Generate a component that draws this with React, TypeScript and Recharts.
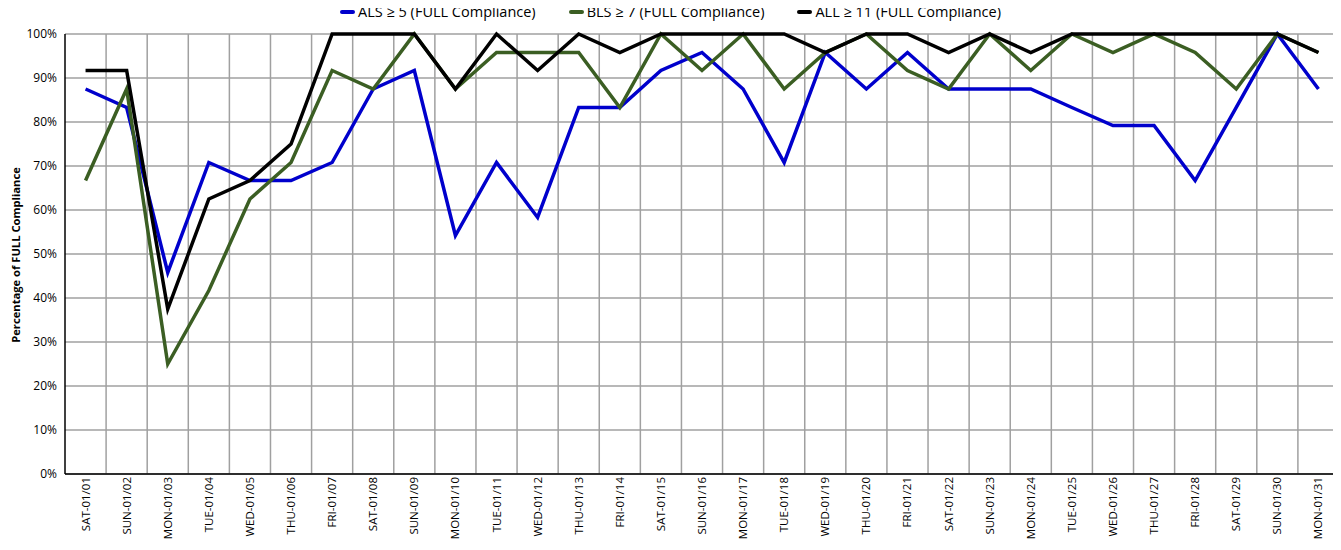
import { LineChart, Line, XAxis, YAxis, CartesianGrid } from 'recharts';

const days = [
  'SAT-01/01', 'SUN-01/02', 'MON-01/03', 'TUE-01/04', 'WED-01/05', 'THU-01/06', 'FRI-01/07',
  'SAT-01/08', 'SUN-01/09', 'MON-01/10', 'TUE-01/11', 'WED-01/12', 'THU-01/13', 'FRI-01/14',
  'SAT-01/15', 'SUN-01/16', 'MON-01/17', 'TUE-01/18', 'WED-01/19', 'THU-01/20', 'FRI-01/21',
  'SAT-01/22', 'SUN-01/23', 'MON-01/24', 'TUE-01/25', 'WED-01/26', 'THU-01/27', 'FRI-01/28',
  'SAT-01/29', 'SUN-01/30', 'MON-01/31',
];

const als = [
  87.5, 83.3, 45.8, 70.8, 66.7, 66.7, 70.8, 87.5, 91.7, 54.2, 70.8, 58.3, 83.3, 83.3, 91.7, 95.8,
  87.5, 70.8, 95.8, 87.5, 95.8, 87.5, 87.5, 87.5, 83.3, 79.2, 79.2, 66.7, 83.3, 100, 87.5,
];

const bls = [
  66.7, 87.5, 25, 41.7, 62.5, 70.8, 91.7, 87.5, 100, 87.5, 95.8, 95.8, 95.8, 83.3, 100, 91.7,
  100, 87.5, 95.8, 100, 91.7, 87.5, 100, 91.7, 100, 95.8, 100, 95.8, 87.5, 100, 95.8,
];

const all = [
  91.7, 91.7, 37.5, 62.5, 66.7, 75, 100, 100, 100, 87.5, 100, 91.7, 100, 95.8, 100, 100,
  100, 100, 95.8, 100, 100, 95.8, 100, 95.8, 100, 100, 100, 100, 100, 100, 95.8,
];

const yTicks = [0, 10, 20, 30, 40, 50, 60, 70, 80, 90, 100];

const series = [
  { key: 'als', name: 'ALS ≥ 5 (FULL Compliance)', color: '#0000CC' },
  { key: 'bls', name: 'BLS ≥ 7 (FULL Compliance)', color: '#3B5E23' },
  { key: 'all', name: 'ALL ≥ 11 (FULL Compliance)', color: '#000000' },
];

const data = days.map((day, i) => ({ day, als: als[i], bls: bls[i], all: all[i] }));

const font = '"Open Sans", sans-serif';

function DayTick({ x, y, payload }: any) {
  return (
    <text
      x={x}
      y={y}
      transform={`rotate(-90, ${x}, ${y})`}
      dx={5}
      dy={4}
      textAnchor="end"
      fontSize={11.5}
      fill="#000"
      fontFamily={font}
    >
      {payload.value}
    </text>
  );
}

export default function App() {
  return (
    <div style={{ position: 'relative', margin: -8, width: 1341, height: 550, background: '#fff' }}>
      <LineChart width={1341} height={550} data={data} margin={{ top: 34, right: 2, bottom: 0, left: 10 }}>
        <CartesianGrid
          stroke="#a0a0a0"
          strokeWidth={1.5}
          verticalCoordinatesGenerator={({ offset }: any) =>
            days.map((_, i) => offset.left + ((i + 1) * offset.width) / days.length)
          }
        />
        <XAxis
          dataKey="day"
          scale="band"
          height={76}
          interval={0}
          tick={<DayTick />}
          tickLine={false}
          axisLine={{ stroke: '#000', strokeWidth: 1.5 }}
        />
        <YAxis
          width={55}
          domain={[0, 100]}
          ticks={yTicks}
          tickFormatter={(v: number) => `${v}%`}
          tick={{ fontSize: 12, fill: '#000', fontFamily: font }}
          tickLine={false}
          axisLine={{ stroke: '#000', strokeWidth: 1.5 }}
        />
        {series.map((s) => (
          <Line
            key={s.key}
            dataKey={s.key}
            name={s.name}
            stroke={s.color}
            strokeWidth={3.5}
            dot={false}
            type="linear"
            isAnimationActive={false}
          />
        ))}
      </LineChart>
      <div
        style={{
          position: 'absolute',
          zIndex: 2,
          top: 2,
          left: 0,
          width: 1341,
          display: 'flex',
          justifyContent: 'center',
          gap: 33,
          fontFamily: font,
          fontSize: 14.5,
          color: '#000',
          lineHeight: '20px',
        }}
      >
        {series.map((s) => (
          <div key={s.key} style={{ display: 'flex', alignItems: 'center' }}>
            <span style={{ display: 'inline-block', width: 15, height: 4, background: s.color, marginRight: 3, borderRadius: 2 }} />
            {s.name}
          </div>
        ))}
      </div>
      <div
        style={{
          position: 'absolute',
          zIndex: 2,
          left: 15,
          top: 255,
          transform: 'translate(-50%, -50%) rotate(-90deg)',
          whiteSpace: 'nowrap',
          fontFamily: font,
          fontWeight: 'bold',
          fontSize: 11.2,
          color: '#000',
        }}
      >
        Percentage of FULL Compliance
      </div>
    </div>
  );
}
